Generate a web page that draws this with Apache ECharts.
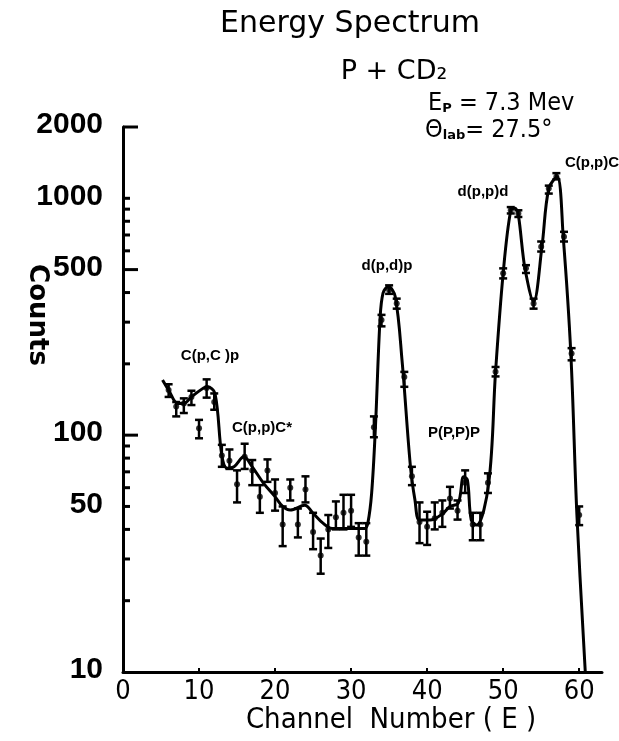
<!DOCTYPE html>
<html>
<head>
<meta charset="utf-8">
<script src="https://cdn.jsdelivr.net/npm/echarts@6/dist/echarts.min.js"></script>
<style>
html,body{margin:0;padding:0;background:#fff;}
#chart{width:619px;height:741px;}
</style>
</head>
<body>
<div id="chart"></div>
<script>
// ---- data ----
const channels = [6,7,8,9,10,11,12,13,14,15,16,17,18,19,20,21,22,23,24,25,26,27,28,29,30,31,32,33,34,35,36,37,38,39,40,41,42,43,44,45,46,47,48,49,50,51,52,53,54,55,56,57,58,59,60];
const counts = [155,132,136,145,107,158,138,82,78,62,81,71,55,71,57,42,60,42,59,39,31,40,45,47,48,37,35.5,108,306,410,360,176,67,43,41,44.6,47,54,48,63,42,42,63,185,482,891,863,506,360,624,1101,1233,688,221,46];
const errLow = [145,120,124,134,97,144,128,73.5,72,52,72,61.5,47,63.5,48,34,53,37,52,33,26,33.4,40,40,41,31,31,98,288,395,342,160,61.5,35,34.4,40,41,49,44,57,36,36,57,177,459,863,834,484,342,596,1047,1202,657,207,41.7];
const errHigh = [164,138,143,154,116,172,150,91,87,71,92,78.5,61.5,79,65,50,65,49,67,47,36.6,46,52.5,56,56,42.5,42.5,120,322,429,377,185,73.5,52,47.5,52,53,60.5,53,71,47,47,69,194,506,918,890,522,377,657,1131,1277,722,233,50];
// hand-drawn fitted curve
const fitX = [5.2,6,7.2,8,9,10.6,11.1,12.1,13,13.7,14.6,15.9,17,18.5,20,21,22,23.9,25,26.3,27.5,29.5,31.8,32.2,32.7,33.2,33.8,34.2,34.9,35.8,36.7,37.8,38.4,39,40.4,42,43,44.1,44.8,45.3,45.8,46.5,48.1,49,50,51,51.6,52.9,54,55.1,56,57.1,57.9,58.9,59.7,60.8];
const fitY = [171,155,136,136,145,158,160,150,82,72.5,73.5,81,73.5,62.6,55,50,48.3,50.6,46.8,42.5,40.4,40.4,40.4,42.5,56.8,108,306,398,424,385,207,74,53.2,43.8,43.8,46.5,50,51.7,66.7,64.6,43.8,41.7,62.6,185,482,891,908,498,366,624,1101,1233,688,221,46,10];
// axes
const xLabelValues = [0,10,20,30,40,50,60];
const xTickValues = [10,20,30,40,50,60];
const yLabelValues = [10,50,100,500,1000,2000];
const yMajorTicks = [100,500,2000];
const yMinorTicks = [20,30,40,50,60,70,80,90,200,300,400,600,700,800,900,1000];
// annotations
const peakLabels = ['C(p,C )p','C(p,p)C*','d(p,d)p','P(P,P)P','d(p,p)d','C(p,p)C'];

const chart = echarts.init(document.getElementById('chart'), null, {renderer:'canvas'});
const black = '#000';
const pts = channels.map((c,i)=>[c,counts[i]]);
const errs = channels.map((c,i)=>[c,errLow[i],errHigh[i]]);
const fit = fitX.map((x,i)=>[x,fitY[i]]);
const yTickData = yMajorTicks.map(v=>[0,v,1]).concat(yMinorTicks.map(v=>[0,v,0]));
const yLabData = yLabelValues.map(v=>[0,v]);

const annPos = [[210,356],[262,428],[387,266],[454,433],[483,192],[592,163]];
const annFont = 'bold 15px "Liberation Sans", Arial, sans-serif';

const graphics = [
  {type:'text', x:350, y:24, style:{text:'Energy Spectrum', font:'30px "DejaVu Sans", sans-serif', fill:black, align:'center', verticalAlign:'middle'}},
  {type:'text', x:394, y:72, style:{text:'P + CD\u2082', font:'27px "DejaVu Sans", sans-serif', fill:black, align:'center', verticalAlign:'middle'}},
  {type:'text', x:428, y:103, style:{text:'{n|E}{s|P}{n| = 7.3 Mev}', align:'left', verticalAlign:'middle',
     rich:{n:{font:'25px "DejaVu Sans Condensed", "DejaVu Sans", sans-serif', fill:black, verticalAlign:'bottom'},
           s:{font:'bold 13px "DejaVu Sans", sans-serif', fill:black, verticalAlign:'bottom'}}}},
  {type:'text', x:425, y:130, style:{text:'{n|\u0398}{s|lab}{n|= 27.5\u00b0}', align:'left', verticalAlign:'middle',
     rich:{n:{font:'25px "DejaVu Sans Condensed", "DejaVu Sans", sans-serif', fill:black, verticalAlign:'bottom'},
           s:{font:'bold 13px "DejaVu Sans", sans-serif', fill:black, verticalAlign:'bottom'}}}},
  {type:'text', x:37, y:315, rotation:-Math.PI/2, style:{text:'Counts', font:'bold 26px "DejaVu Sans", sans-serif', fill:black, align:'center', verticalAlign:'middle'}},
  {type:'text', x:391, y:720, style:{text:'Channel  Number ( E )', font:'29px "DejaVu Sans Condensed", "DejaVu Sans", sans-serif', fill:black, align:'center', verticalAlign:'middle'}}
];
peakLabels.forEach((t,i)=>{
  graphics.push({type:'text', x:annPos[i][0], y:annPos[i][1], style:{text:t, font:annFont, fill:black, align:'center', verticalAlign:'middle'}});
});

const option = {
  animation:false,
  backgroundColor:'#fff',
  grid:{left:123, right:17, top:127, bottom:69},
  xAxis:{type:'value', min:0, max:63, interval:10,
    axisLine:{lineStyle:{color:black, width:3}},
    axisTick:{inside:true, length:4, lineStyle:{color:black, width:2}, customValues:xTickValues},
    axisLabel:{customValues:xLabelValues, color:black, margin:6, fontSize:27, fontFamily:'"DejaVu Sans Condensed", "DejaVu Sans", sans-serif'},
    splitLine:{show:false}},
  yAxis:{type:'log', logBase:10, min:10, max:2000,
    axisLine:{show:true, lineStyle:{color:black, width:3}},
    axisTick:{show:false}, axisLabel:{show:false}, splitLine:{show:false}},
  graphic:graphics,
  series:[
    {type:'line', name:'fit', data:fit, smooth:0.35, showSymbol:false, symbol:'none',
      lineStyle:{color:black, width:3}, z:3},
    {type:'custom', name:'errors', data:errs, z:4,
      renderItem:function(params, api){
        const x = api.value(0);
        const lo = api.coord([x, api.value(1)]);
        const hi = api.coord([x, api.value(2)]);
        const w = 4;
        return {type:'group', children:[
          {type:'line', shape:{x1:lo[0], y1:lo[1], x2:hi[0], y2:hi[1]}, style:{stroke:black, lineWidth:2.5}},
          {type:'line', shape:{x1:lo[0]-w, y1:lo[1], x2:lo[0]+w, y2:lo[1]}, style:{stroke:black, lineWidth:2.5}},
          {type:'line', shape:{x1:hi[0]-w, y1:hi[1], x2:hi[0]+w, y2:hi[1]}, style:{stroke:black, lineWidth:2.5}}
        ]};
      }},
    {type:'scatter', name:'counts', data:pts, symbol:'circle', symbolSize:6, itemStyle:{color:black}, z:5},
    {type:'custom', name:'yticks', data:yTickData, z:6, clip:false,
      renderItem:function(params, api){
        const p = api.coord([api.value(0), api.value(1)]);
        const len = api.value(2) ? 15 : 7;
        return {type:'line', shape:{x1:p[0], y1:p[1], x2:p[0]+len, y2:p[1]}, style:{stroke:black, lineWidth:3}};
      }},
    {type:'custom', name:'ylabels', data:yLabData, z:6, clip:false,
      renderItem:function(params, api){
        const v = api.value(1);
        const p = api.coord([api.value(0), v]);
        return {type:'text', x:p[0]-20, y:p[1]-2, style:{text:String(v), font:'bold 30px "Liberation Sans", Arial, sans-serif', fill:black, align:'right', verticalAlign:'middle'}};
      }}
  ]
};
chart.setOption(option);
</script>
</body>
</html>
